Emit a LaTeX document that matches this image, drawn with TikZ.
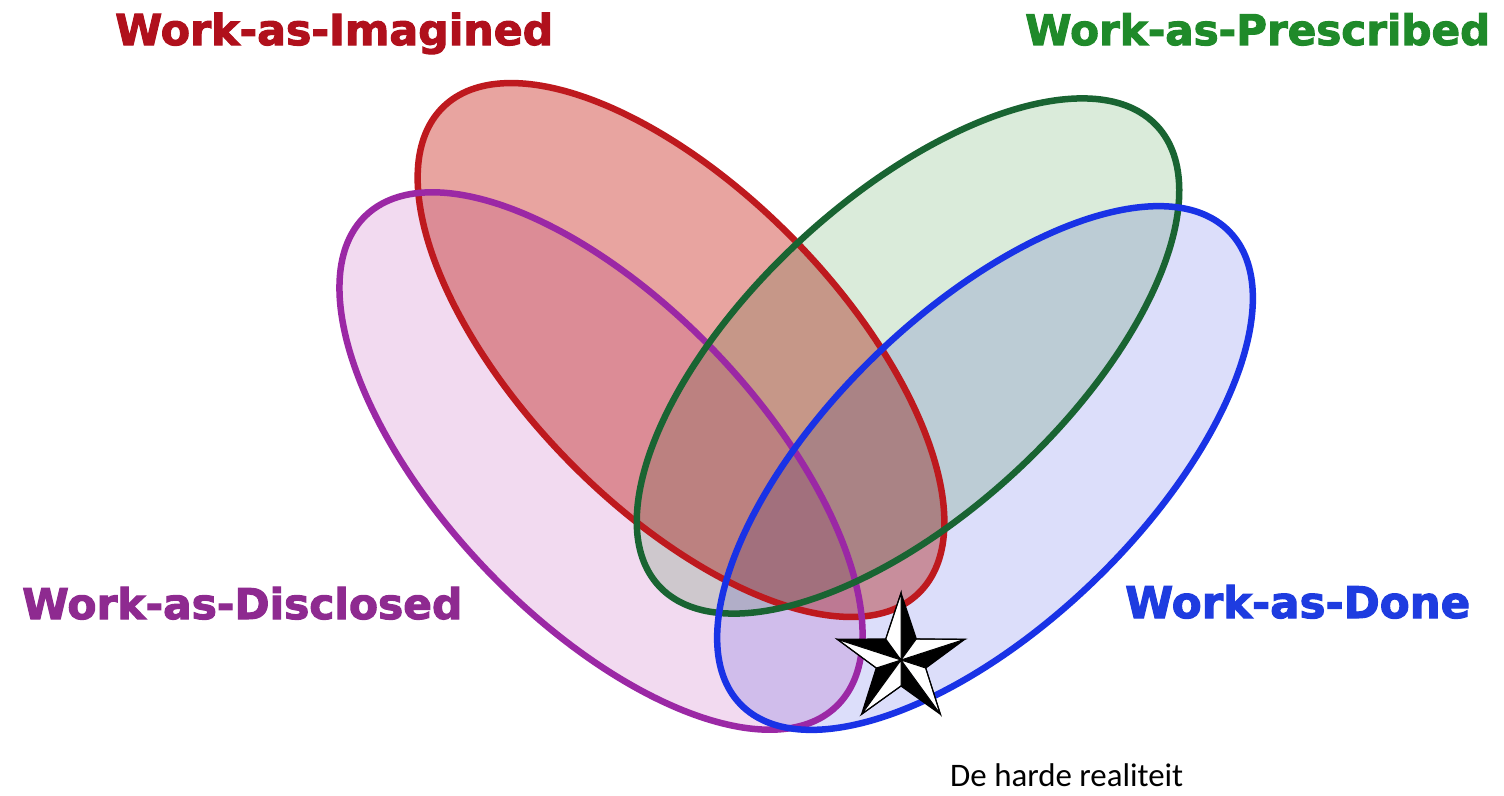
\documentclass[tikz,border=0pt]{standalone}
\usepackage{fontspec}
\setmainfont{DejaVu Sans}[BoldFeatures={FakeBold=2.5}]
\newfontfamily\calib{Carlito}
\usetikzlibrary{calc}
\definecolor{redS}{RGB}{190,25,30}
\definecolor{purS}{RGB}{155,40,165}
\definecolor{grnS}{RGB}{25,100,50}
\definecolor{bluS}{RGB}{25,50,230}
\definecolor{redF}{RGB}{232,164,160}
\definecolor{purF}{RGB}{242,218,240}
\definecolor{grnF}{RGB}{218,235,218}
\definecolor{bluF}{RGB}{220,222,250}
\definecolor{redT}{RGB}{176,16,28}
\definecolor{purT}{RGB}{142,42,144}
\definecolor{grnT}{RGB}{31,138,42}
\definecolor{bluT}{RGB}{30,60,224}
\tikzset{
  oval/.style={line width=6.5pt},
  lbl/.style={inner sep=0pt, anchor=base west, font=\bfseries},
  redE/.style={rotate around={-45.6:(681,350)}},
  purE/.style={rotate around={-46.2:(601,461)}},
  grnE/.style={rotate around={42.7:(908,356)}},
  bluE/.style={rotate around={44.0:(985,468)}},
}
\begin{document}
\begin{tikzpicture}[x=1pt,y=-1pt]
\useasboundingbox[fill=white] (0,0) rectangle (1504,795);
\begin{scope}[blend group=multiply]
  \fill[redF, redE] (681,350) ellipse [x radius=340, y radius=158];
  \fill[purF, purE] (601,461) ellipse [x radius=340, y radius=158];
  \fill[grnF, grnE] (908,356) ellipse [x radius=339, y radius=158];
  \fill[bluF, bluE] (985,468) ellipse [x radius=340, y radius=157];
\end{scope}
\draw[oval, redS, redE] (681,350) ellipse [x radius=340, y radius=158];
\draw[oval, purS, purE] (601,461) ellipse [x radius=340, y radius=158];
\draw[oval, grnS, grnE] (908,356) ellipse [x radius=339, y radius=158];
\draw[oval, bluS, bluE] (985,468) ellipse [x radius=340, y radius=157];
% nautical star
\begin{scope}[shift={(901,660)}, yscale=-1]
  \foreach \k in {0,...,4} {
    \pgfmathsetmacro\t{90-72*\k}
    \fill[black] (0,0) -- (\t:67) -- ({\t-36}:26) -- cycle;
    \filldraw[fill=white, draw=black, line width=1pt] (0,0) -- (\t:67) -- ({\t+36}:26) -- cycle;
  }
  \draw[line width=1.2pt, line join=miter]
    (90:67) -- (54:26) -- (18:67) -- (-18:26) -- (-54:67) -- (-90:26) -- (-126:67) -- (-162:26) -- (162:67) -- (126:26) -- cycle;
\end{scope}
\node[lbl, text=redT] (wai) at (115,45) {\resizebox{438pt}{!}{Work-as-Imagined}};
\node[lbl, text=grnT] (wap) at (1025,45) {\resizebox{465pt}{!}{Work-as-Prescribed}};
\node[lbl, text=purT] (wadi) at (22,619) {\resizebox{440pt}{!}{Work-as-Disclosed}};
\node[lbl, text=bluT] (wado) at (1125,618) {\resizebox{345pt}{!}{Work-as-Done}};
\node[inner sep=0pt, anchor=base west] (real) at (950,786) {\resizebox{233pt}{!}{\calib De harde realiteit}};
\end{tikzpicture}
\end{document}
